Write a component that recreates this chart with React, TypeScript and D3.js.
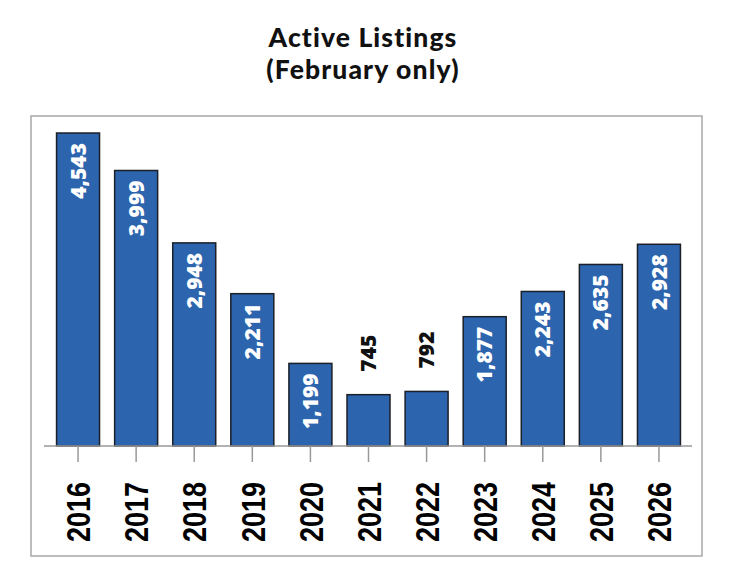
import React from "react";
import * as d3 from "d3";

const years = ["2016", "2017", "2018", "2019", "2020", "2021", "2022", "2023", "2024", "2025", "2026"];
const listings = [4543, 3999, 2948, 2211, 1199, 745, 792, 1877, 2243, 2635, 2928];
const titleLines = ["Active Listings", "(February only)"];

const W = 740;
const H = 582;

export default function App() {
  const x = d3.scaleBand<string>().domain(years).range([49, 688]).paddingInner(0.26).paddingOuter(0.13);
  const y = d3.scaleLinear().domain([0, 4790]).range([446, 116]);
  const fmt = d3.format(",");
  const baseY = y(0);

  return (
    <svg width={W} height={H} style={{ position: "absolute", left: 0, top: 0, background: "#fff" }}>
      {titleLines.map((t, i) => (
        <text key={t} x={363} y={47 + i * 32} textAnchor="middle" fontFamily="Lato, 'Open Sans', sans-serif" fontWeight={900} fontSize={26.5} letterSpacing={1.1} fill="#111">
          {t}
        </text>
      ))}
      <rect x={31} y={116} width={671} height={440} fill="none" stroke="#a8a8a8" strokeWidth={1.5} />
      {years.map((yr, i) => {
        const v = listings[i];
        const bx = x(yr)!;
        const bw = x.bandwidth();
        const top = y(v);
        const cx = bx + bw / 2;
        const inside = baseY - top > 70;
        return (
          <g key={yr}>
            <rect x={bx} y={top} width={bw} height={baseY - top} fill="#2c64ae" stroke="#1b1f27" strokeWidth={1.5} />
            {inside ? (
              <text transform={`translate(${cx},${top + 10}) rotate(-90)`} textAnchor="end" dy="0.36em" fill="#fff" fontFamily="'Open Sans', sans-serif" fontWeight={800} fontSize={21}>
                {fmt(v)}
              </text>
            ) : (
              <text transform={`translate(${cx},${top - 23}) rotate(-90)`} textAnchor="start" dy="0.36em" fill="#111" fontFamily="'Open Sans', sans-serif" fontWeight={800} fontSize={21}>
                {fmt(v)}
              </text>
            )}
            <line x1={cx} x2={cx} y1={baseY} y2={baseY + 16} stroke="#999" strokeWidth={1.5} />
            <text transform={`translate(${cx},482) rotate(-90)`} textAnchor="end" dy="0.36em" fill="#000" fontFamily="'Liberation Sans', Arial, sans-serif" fontWeight={700} fontSize={34} textLength={60} lengthAdjust="spacingAndGlyphs">
              {yr}
            </text>
          </g>
        );
      })}
      <line x1={44} x2={692} y1={baseY} y2={baseY} stroke="#999" strokeWidth={1.5} />
    </svg>
  );
}
